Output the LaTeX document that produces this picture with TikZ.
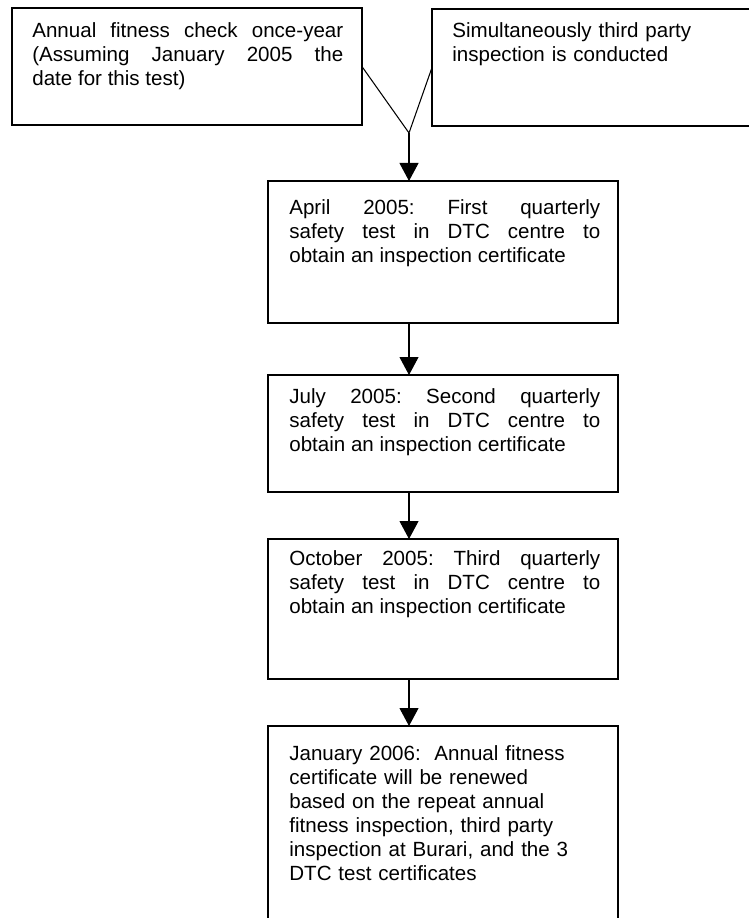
\documentclass[tikz,border=0pt]{standalone}
\usepackage{fontspec}
\setmainfont{Liberation Sans}
\usetikzlibrary{arrows.meta, calc, positioning}

\begin{document}
\begin{tikzpicture}[x=0.02cm, y=-0.02cm,
        box/.style={draw, line width=0.8pt, anchor=north west, minimum width=7cm, inner sep=0pt, outer sep=0pt},
        txt/.style={anchor=north west, inner sep=0pt, text width=6.22cm, align=justify, font=\fontsize{11.7pt}{13.7pt}\selectfont\frenchspacing},
        link/.style={line width=0.6pt},
        arr/.style={link, -{Triangle[width=0.38cm, length=0.36cm]}}]
                    \useasboundingbox (0, 0) rectangle (749, 918);
                    \clip (0, 0) rectangle (749, 918);

                    \node[box, minimum height=2.34cm] (check) at (12, 8) {};
                    \node[box, minimum height=2.34cm] (third) at (432, 9) {};
                    \node[box, minimum height=2.84cm] (april) at (268, 181) {};
                    \node[box, minimum height=2.34cm] (july) at (268, 375) {};
                    \node[box, minimum height=2.8cm] (october) at (268, 539) {};
                    \node[box, minimum height=4cm] (renewal) at (268, 726) {};

                    \node[txt] (checktext) at (32, 22) {Annual fitness check once-year\linebreak (Assuming January 2005 the\linebreak date for this test)};
                    \node[txt, align=left] (thirdtext) at (452, 22) {Simultaneously third party\\ inspection is conducted};
                    \node[txt] (apriltext) at (289, 199) {April 2005: First quarterly\linebreak safety test in DTC centre to\linebreak obtain an inspection certificate};
                    \node[txt] (julytext) at (289, 388) {July 2005: Second quarterly\linebreak safety test in DTC centre to\linebreak obtain an inspection certificate};
                    \node[txt] (octobertext) at (289, 550) {October 2005: Third quarterly\linebreak safety test in DTC centre to\linebreak obtain an inspection certificate};
                    \node[txt, align=left] (renewaltext) at (289, 745) {January 2006:\ \ Annual fitness\\ certificate will be renewed\\ based on the repeat annual\\ fitness inspection, third party\\ inspection at Burari, and the 3\\ DTC test certificates};

                    \coordinate (join) at (409, 133);
                    \draw[link] (check.east) -- (join) -- (third.west);
                    \draw[arr] (join) -- (join |- april.north);
                    \draw[arr] (april.south -| join) -- (july.north -| join);
                    \draw[arr] (july.south -| join) -- (october.north -| join);
                    \draw[arr] (october.south -| join) -- (renewal.north -| join);
                \end{tikzpicture}
\end{document}
